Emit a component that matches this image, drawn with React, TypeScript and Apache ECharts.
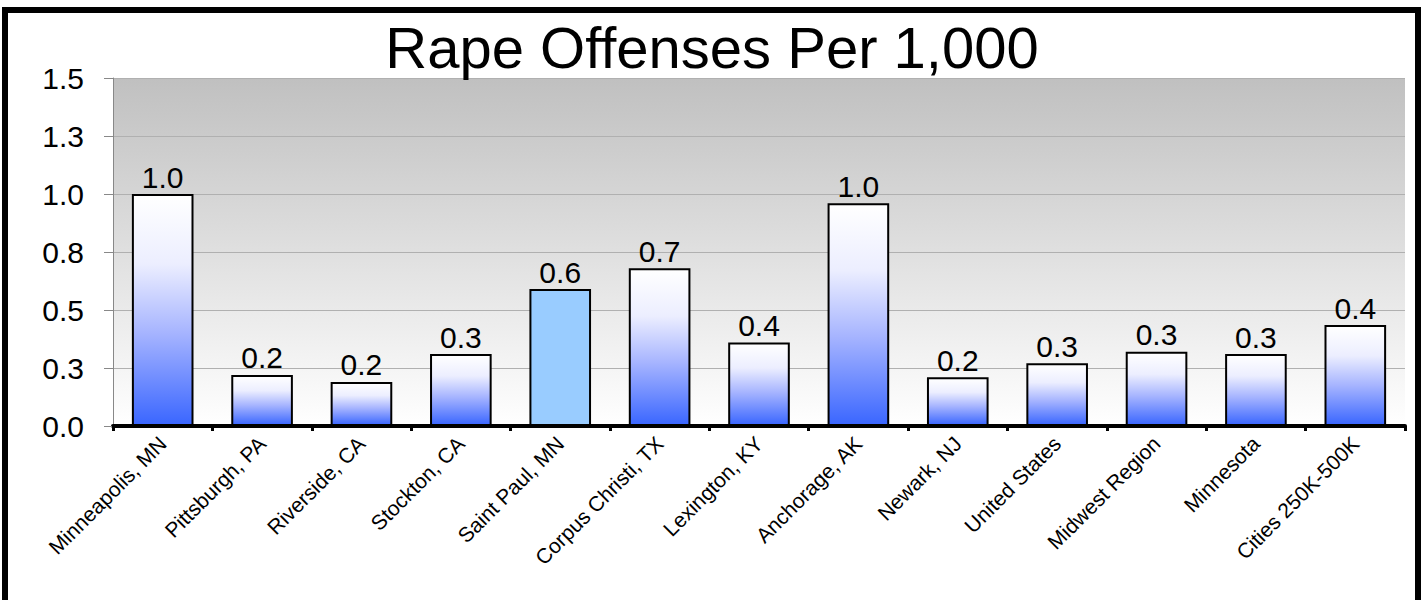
import React, { useEffect, useRef } from "react";
import * as echarts from "echarts";

const categories = [
  "Minneapolis, MN",
  "Pittsburgh, PA",
  "Riverside, CA",
  "Stockton, CA",
  "Saint Paul, MN",
  "Corpus Christi, TX",
  "Lexington, KY",
  "Anchorage, AK",
  "Newark, NJ",
  "United States",
  "Midwest Region",
  "Minnesota",
  "Cities 250K-500K",
];
const values = [1.0, 0.22, 0.19, 0.31, 0.59, 0.68, 0.36, 0.96, 0.21, 0.27, 0.32, 0.31, 0.435];
const highlightCategory = "Saint Paul, MN";
const titleText = "Rape Offenses Per 1,000";

export default function App() {
  const ref = useRef<HTMLDivElement>(null);
  useEffect(() => {
    if (!ref.current) return;
    const chart = echarts.init(ref.current, null, { renderer: "svg" });
    const barGradient = new echarts.graphic.LinearGradient(0, 0, 0, 1, [
      { offset: 0, color: "#ffffff" },
      { offset: 0.3, color: "#eceeff" },
      { offset: 0.6, color: "#a6b4ff" },
      { offset: 1, color: "#3a66ff" },
    ]);
    const font = "'Liberation Sans', Arial, Helvetica, sans-serif";
    chart.setOption({
      animation: false,
      backgroundColor: "#ffffff",
      title: {
        text: titleText,
        left: "center",
        top: 13,
        textStyle: { fontFamily: font, fontSize: 58, fontWeight: "normal", color: "#000" },
      },
      graphic: [
        {
          type: "rect",
          shape: { x: 5, y: 10, width: 1413, height: 640 },
          style: { fill: "none", stroke: "#000", lineWidth: 6 },
          z: 100,
        },
      ],
      grid: {
        left: 113,
        right: 19,
        top: 78,
        bottom: 174,
        show: true,
        borderWidth: 0,
        backgroundColor: new echarts.graphic.LinearGradient(0, 0, 0, 1, [
          { offset: 0, color: "#c0c0c0" },
          { offset: 1, color: "#ffffff" },
        ]),
      },
      xAxis: {
        type: "category",
        data: categories,
        boundaryGap: true,
        axisLine: { show: true, lineStyle: { color: "#000", width: 4 } },
        axisTick: { show: true, length: 5, lineStyle: { color: "#000", width: 3 } },
        axisLabel: {
          rotate: 45,
          interval: 0,
          margin: 14,
          fontFamily: font,
          fontSize: 21,
          color: "#000",
        },
        splitLine: { show: false },
      },
      yAxis: {
        type: "value",
        min: 0,
        max: 1.5,
        interval: 0.25,
        axisLine: { show: true, lineStyle: { color: "#888", width: 1 } },
        axisTick: { show: true, length: 9, lineStyle: { color: "#888", width: 1 } },
        axisLabel: {
          margin: 29,
          fontFamily: font,
          fontSize: 30,
          color: "#000",
          formatter: (v: number) => v.toFixed(1),
        },
        splitLine: { show: true, lineStyle: { color: "#b0b0b0", width: 1 } },
      },
      series: [
        {
          type: "bar",
          barWidth: "62%",
          data: values.map((v, i) =>
            categories[i] === highlightCategory
              ? { value: v, itemStyle: { color: "#99ccff" } }
              : v
          ),
          itemStyle: { color: barGradient, borderColor: "#000", borderWidth: 2 },
          label: {
            show: true,
            position: "top",
            distance: 2,
            fontFamily: font,
            fontSize: 30,
            color: "#000",
            formatter: (p: any) => Number(p.value).toFixed(1),
          },
        },
      ],
    });
    return () => chart.dispose();
  }, []);
  return (
    <div
      ref={ref}
      style={{ position: "fixed", left: 0, top: 0, width: 1424, height: 600 }}
    />
  );
}
